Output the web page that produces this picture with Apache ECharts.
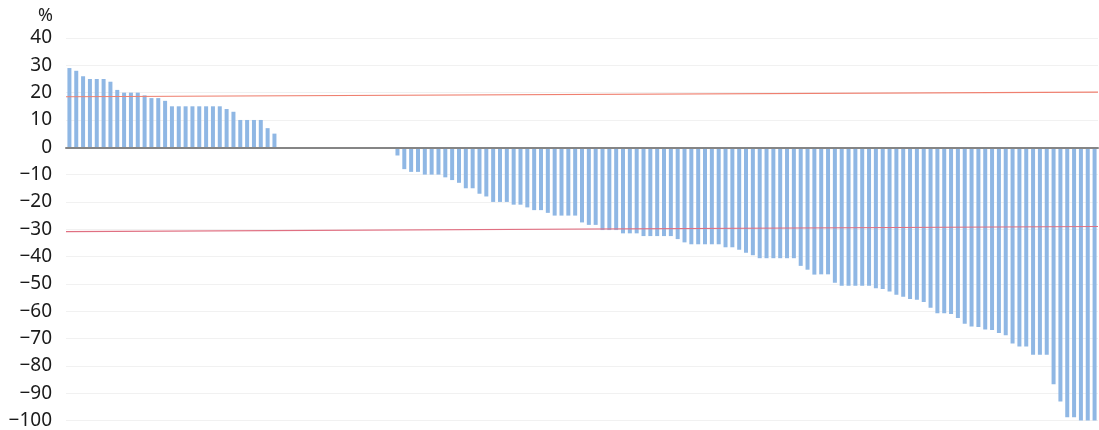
<!DOCTYPE html>
<html>
<head>
<meta charset="utf-8">
<script src="https://cdn.jsdelivr.net/npm/echarts@6/dist/echarts.min.js"></script>
<style>
  html, body { margin: 0; padding: 0; background: #fff; }
  #chart { width: 1099px; height: 430px; }
</style>
</head>
<body>
<div id="chart"></div>
<script>
  // best change from baseline per patient (%), sorted
  var positiveVals = [29, 28, 26, 25, 25, 25, 24, 21, 20, 20,
    20, 19, 18, 18, 17, 15, 15, 15, 15, 15,
    15, 15, 15, 14, 13, 10, 10, 10, 10, 7, 5]
  var zeroVals = [0, 0, 0, 0, 0, 0, 0, 0, 0, 0, 0, 0, 0, 0, 0, 0, 0]
  var negativeVals = [-3, -8, -9, -9, -10, -10, -10, -11, -12, -13,
    -15, -15, -17, -18, -20, -20, -20, -21, -21, -22,
    -23, -23, -24, -25, -25, -25, -25, -27.5, -28.4, -28.4,
    -30.3, -30.3, -30.3, -31.5, -31.5, -31.5, -32.5, -32.5, -32.5, -32.5,
    -32.5, -33.6, -34.8, -35.5, -35.5, -35.5, -35.5, -35.5, -36.6, -36.6,
    -37.5, -38.6, -39.5, -40.6, -40.6, -40.6, -40.6, -40.6, -40.6, -43.4,
    -44.8, -46.6, -46.5, -46.5, -49.6, -50.7, -50.7, -50.7, -50.7, -50.7,
    -51.6, -51.9, -52.8, -54, -54.7, -55.5, -55.8, -56.6, -58.7, -60.7,
    -60.7, -61, -62.5, -64.6, -65.6, -65.8, -66.7, -66.9, -68, -68.8,
    -71.8, -72.9, -72.9, -75.9, -75.9, -75.9, -86.7, -93, -98.8, -98.8,
    -100, -100, -100]
  var yTicks = [40, 30, 20, 10, 0, -10, -20, -30, -40, -50, -60, -70, -80, -90, -100]
  // reference lines (slightly tilted in the source figure), [start, end]
  var upperRef = [18.5, 20.2]
  var lowerRef = [-30.9, -29.0]

  var values = positiveVals.concat(zeroVals, negativeVals)
  var patients = []
  for (var i = 0; i < values.length; i++) {
    patients.push(String(i + 1))
  }

  var chart = echarts.init(document.getElementById('chart'))
  chart.setOption({
    animation: false,
    grid: {
      left: 66,
      right: 1,
      top: 38,
      bottom: 7
    },
    xAxis: [{
      type: 'category',
      data: patients,
      axisLine: {
        show: true,
        onZero: true,
        lineStyle: { color: '#858585', width: 2 }
      },
      axisTick: { show: false },
      axisLabel: { show: false },
      z: 5
    }, {
      type: 'value',
      min: 0,
      max: 1,
      show: false
    }],
    yAxis: {
      type: 'value',
      name: '%',
      nameLocation: 'end',
      nameGap: 13,
      nameTextStyle: {
        color: '#222',
        fontSize: 18,
        fontFamily: 'Noto Sans',
        align: 'right',
        padding: [0, 13, 0, 0]
      },
      min: yTicks[yTicks.length - 1],
      max: yTicks[0],
      interval: 10,
      axisLine: { show: false },
      axisTick: { show: false },
      splitLine: {
        show: true,
        lineStyle: { color: '#f1f1f1', width: 1 }
      },
      axisLabel: {
        color: '#1a1a1a',
        fontSize: 19,
        fontFamily: 'Noto Sans',
        margin: 14,
        formatter: function (v) {
          return String(v).replace('-', '\u2212')
        }
      }
    },
    series: [{
      type: 'bar',
      data: values,
      barWidth: 4,
      itemStyle: { color: '#8fb7e4' }
    }, {
      type: 'line',
      xAxisIndex: 1,
      data: [[0, upperRef[0]], [1, upperRef[1]]],
      symbol: 'none',
      lineStyle: { color: '#ef8070', width: 1.2 },
      z: 6
    }, {
      type: 'line',
      xAxisIndex: 1,
      data: [[0, lowerRef[0]], [1, lowerRef[1]]],
      symbol: 'none',
      lineStyle: { color: '#e07082', width: 1.2 },
      z: 6
    }]
  })
</script>
</body>
</html>
